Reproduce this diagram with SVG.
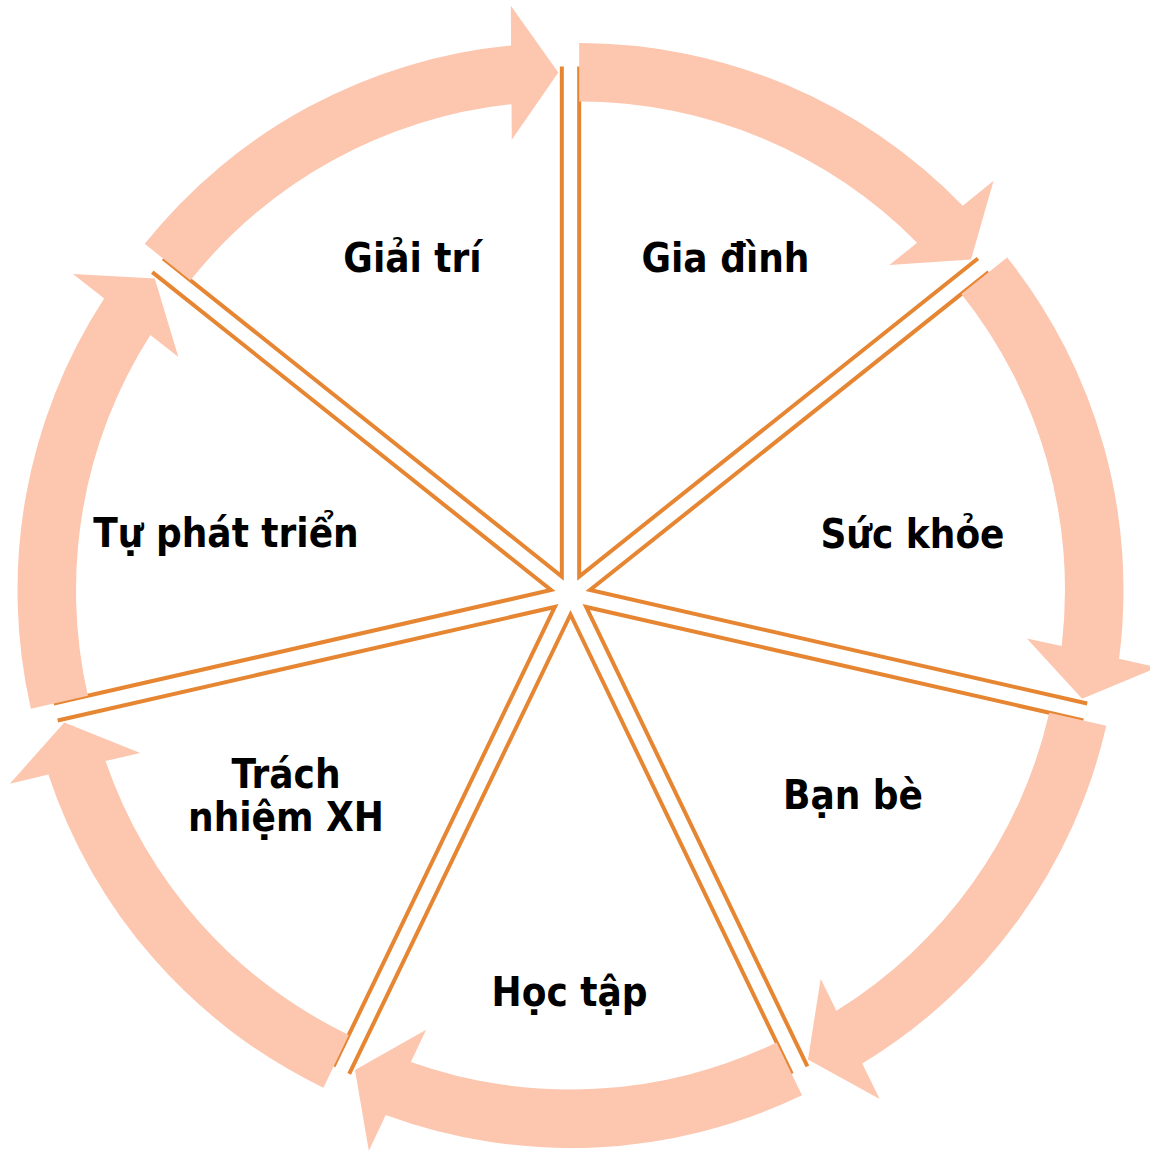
<svg xmlns="http://www.w3.org/2000/svg" width="1150" height="1153" viewBox="0 0 1150 1153">
<style>
.wedge{fill:none;stroke:#E68632;stroke-width:4;stroke-linejoin:miter}
.arrow{fill:#FCC6AF;stroke:none}
.lbl{font-family:"DejaVu Sans","Liberation Sans",sans-serif;font-weight:bold;font-stretch:condensed;font-size:40px;fill:#000;text-anchor:middle}
</style>
<rect width="1150" height="1153" fill="#ffffff"/>
<g id="segments">
<path class="wedge" d="M163.09,258.50 L561.82,576.48 L561.82,66.48"/>
<path class="wedge" d="M579.18,66.48 L579.18,576.48 L977.91,258.50"/>
<path class="wedge" d="M988.73,272.07 L590,590.05 L1087.21,703.54"/>
<path class="wedge" d="M1083.35,720.46 L586.14,606.97 L807.42,1066.46"/>
<path class="wedge" d="M791.78,1073.99 L570.5,614.5 L349.22,1073.99"/>
<path class="wedge" d="M333.58,1066.46 L554.86,606.97 L57.65,720.46"/>
<path class="wedge" d="M53.79,703.54 L551,590.05 L152.27,272.07"/>
</g>
<g id="connectors">
<path class="arrow" d="M144.71,243.85 A533.5,533.5 0 0 1 511.11,45.39 L510.83,5.82 L558.30,72.49 L511.77,139.82 L511.52,104.15 A475,475 0 0 0 190.45,280.32 Z"/>
<path class="arrow" d="M579.18,42.98 A533.5,533.5 0 0 1 962.78,205.71 L993.55,180.82 L971.02,259.50 L889.37,265.10 L917.10,242.66 A475,475 0 0 0 579.18,101.48 Z"/>
<path class="arrow" d="M1007.11,257.42 A533.5,533.5 0 0 1 1119.06,658.80 L1157.70,667.33 L1082.13,698.77 L1026.85,638.43 L1061.68,646.12 A475,475 0 0 0 961.37,293.89 Z"/>
<path class="arrow" d="M1106.27,725.68 A533.5,533.5 0 0 1 862.26,1063.46 L879.67,1098.99 L807.98,1059.52 L820.69,978.67 L836.39,1010.70 A475,475 0 0 0 1049.23,712.67 Z"/>
<path class="arrow" d="M801.97,1095.17 A533.5,533.5 0 0 1 385.76,1115.01 L368.84,1150.78 L354.99,1070.11 L426.13,1029.64 L410.88,1061.89 A475,475 0 0 0 776.59,1042.46 Z"/>
<path class="arrow" d="M323.39,1087.64 A533.5,533.5 0 0 1 48.37,774.59 L9.86,783.66 L64.29,722.55 L140.29,752.93 L105.57,761.11 A475,475 0 0 0 348.77,1034.93 Z"/>
<path class="arrow" d="M30.87,708.76 A533.5,533.5 0 0 1 104.16,298.57 L73.05,274.11 L154.77,278.57 L178.39,356.93 L150.35,334.88 A475,475 0 0 0 87.91,695.75 Z"/>
</g>
<g id="node-giai-tri"><text class="lbl" x="412.5" y="272">Giải trí</text></g>
<g id="node-gia-dinh"><text class="lbl" x="725.5" y="272">Gia đình</text></g>
<g id="node-suc-khoe"><text class="lbl" x="912.5" y="548">Sức khỏe</text></g>
<g id="node-ban-be"><text class="lbl" x="853" y="809">Bạn bè</text></g>
<g id="node-hoc-tap"><text class="lbl" x="569.5" y="1006">Học tập</text></g>
<g id="node-trach-nhiem"><text class="lbl" x="286" y="788">Trách</text><text class="lbl" x="286" y="831">nhiệm XH</text></g>
<g id="node-tu-phat-trien"><text class="lbl" x="226" y="547">Tự phát triển</text></g>
</svg>
